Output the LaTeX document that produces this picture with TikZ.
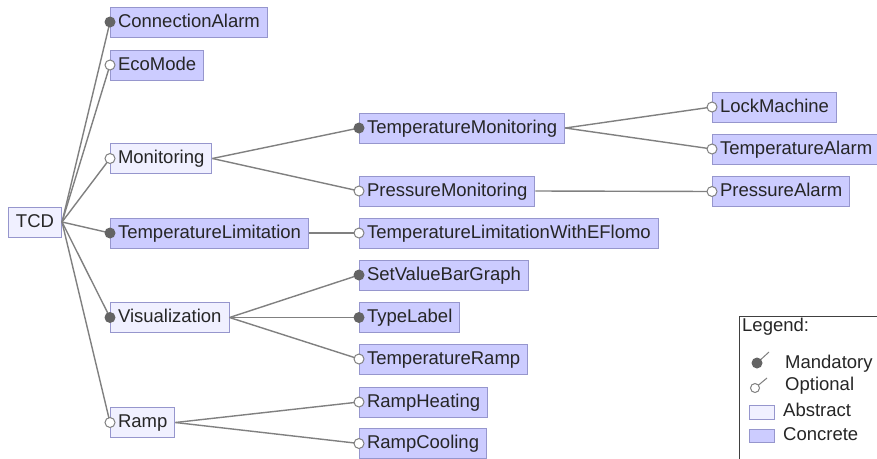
\documentclass[tikz,border=0pt]{standalone}
\usepackage{fontspec}
\setmainfont{Liberation Sans}
\definecolor{absfill}{RGB}{240,240,255}
\definecolor{confill}{RGB}{204,204,255}
\definecolor{boxline}{RGB}{150,150,205}
\definecolor{edgecol}{RGB}{128,128,128}
\definecolor{dotcol}{RGB}{100,100,100}
\tikzset{
  feat/.style={draw=boxline, line width=1pt, anchor=west, minimum height=30pt,
    inner xsep=7.5pt, inner ysep=0pt, text height=13.5pt, text depth=3.5pt,
    font=\fontsize{18.5}{22}\selectfont, text=black!85},
  abstractf/.style={feat, fill=absfill},
  concretef/.style={feat, fill=confill},
  edge/.style={draw=edgecol, line width=1.4pt},
  mand/.style={fill=dotcol},
  opt/.style={fill=white, draw=edgecol, line width=1pt},
  legtext/.style={anchor=west, inner sep=0pt, font=\fontsize{18.5}{22}\selectfont, text=black!85}
}
\begin{document}
\begin{tikzpicture}[x=1pt,y=-1pt]
\useasboundingbox (0,0) rectangle (877,458);
\fill[white] (0,0) rectangle (877,458);

% nodes
\node[abstractf] (tcd) at (8,222) {TCD};
\node[concretef] (ca) at (110,22) {ConnectionAlarm};
\node[concretef] (eco) at (110,65) {EcoMode};
\node[abstractf] (mon) at (110,158.5) {Monitoring};
\node[concretef] (tl) at (110,233) {TemperatureLimitation};
\node[abstractf] (vis) at (110,317.5) {Visualization};
\node[abstractf] (ramp) at (110,422.5) {Ramp};
\node[concretef] (tm) at (359,128) {TemperatureMonitoring};
\node[concretef] (pm) at (359,191) {PressureMonitoring};
\node[concretef] (tlw) at (359,233) {TemperatureLimitationWithEFlomo};
\node[concretef] (svb) at (359,275) {SetValueBarGraph};
\node[concretef] (typ) at (359,317.5) {TypeLabel};
\node[concretef] (tr) at (359,359) {TemperatureRamp};
\node[concretef] (rh) at (359,402) {RampHeating};
\node[concretef] (rc) at (359,443.5) {RampCooling};
\node[concretef] (lock) at (712,107) {LockMachine};
\node[concretef] (ta) at (712,149) {TemperatureAlarm};
\node[concretef] (pa) at (712,191.5) {PressureAlarm};

% edges
\foreach \c in {ca,eco,mon,tl,vis,ramp} \draw[edge] (tcd.east) -- (\c.west);
\foreach \c in {tm,pm} \draw[edge] (mon.east) -- (\c.west);
\draw[edge] (tl.east) -- (tlw.west);
\foreach \c in {svb,typ,tr} \draw[edge] (vis.east) -- (\c.west);
\foreach \c in {rh,rc} \draw[edge] (ramp.east) -- (\c.west);
\foreach \c in {lock,ta} \draw[edge] (tm.east) -- (\c.west);
\draw[edge] (pm.east) -- (pa.west);

% dots
\foreach \c in {ca,tl,vis,tm,svb,typ} \fill[mand] (\c.west) circle (5.5);
\foreach \c in {eco,mon,ramp,pm,tlw,tr,rh,rc,lock,ta,pa} \filldraw[opt] (\c.west) circle (5);

% legend
\draw[black!75, line width=1pt, fill=white] (739,316) rectangle (890,470);
\node[legtext] (leg) at (742,327) {Legend:};
\draw[edgecol, line width=1pt] (757,363) -- (769,352);
\fill[mand] (757,363) circle (5.5);
\node[legtext] (lm) at (785,364) {Mandatory};
\draw[edgecol, line width=1pt] (755,388) -- (767,378);
\filldraw[opt] (755,388) circle (4.5);
\node[legtext] (lo) at (785,386) {Optional};
\filldraw[fill=absfill, draw=boxline, line width=1pt] (749,405) rectangle (774,419);
\node[legtext] (la) at (783,410) {Abstract};
\filldraw[fill=confill, draw=boxline, line width=1pt] (749,429) rectangle (774,442);
\node[legtext] (lc) at (783,434) {Concrete};
\end{tikzpicture}
\end{document}
